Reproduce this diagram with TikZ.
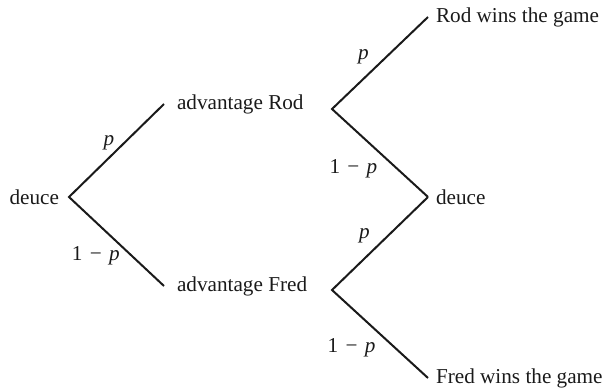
\documentclass[tikz,border=0pt]{standalone}
\usepackage{fontspec}
\setmainfont{Liberation Serif}
\usepackage{tikz}
\usetikzlibrary{positioning}
\definecolor{TreeInk}{HTML}{1A1A1A}
\tikzset{
  state/.style={inner sep=0pt,outer sep=4pt,text=TreeInk,font=\fontsize{10.6}{12}\selectfont},
  advstate/.style={state,outer xsep=6.5pt},
  branch/.style={draw=TreeInk,line width=1pt},
  prob/.style={inner sep=1.5pt,text=TreeInk,font=\fontsize{10.6}{12}\selectfont},
}
\newcommand{\pp}{\textit{p}}
\newcommand{\qq}{1\hspace{1pt} − \hspace{1pt}\textit{p}}

\begin{document}
\begin{tikzpicture}[x=0.5pt,y=-0.5pt]
  \useasboundingbox (0,0) rectangle (603,391);
  \node[state,anchor=east,outer xsep=5pt] (deuceA) at (69,197) {deuce};
  \node[advstate,anchor=west] (advRod) at (164,104) {advantage Rod};
  \node[advstate,anchor=west] (advFred) at (164,286) {advantage Fred};
  \coordinate (forkRod) at (332,109);
  \coordinate (forkFred) at (332,290);
  \node[state,anchor=west] (rodWins) at (428,17) {Rod wins the game};
  \node[state,anchor=west] (deuceB) at (428,197) {deuce};
  \node[state,anchor=west] (fredWins) at (428,378) {Fred wins the game};
  % first point
  \draw[branch] (advRod.west) -- node[prob,pos=0.42,left=3pt] (pA) {\pp} (deuceA.east) -- node[prob,pos=0.66,left=4pt] (qA) {\qq} (advFred.west);
  % after advantage
  \draw[branch] (rodWins.west) -- node[prob,pos=0.43,left=7pt] (pB) {\pp} (forkRod) -- node[prob,pos=0.68,left=8pt] (qB) {\qq} (deuceB.west);
  \draw[branch] (deuceB.west) -- node[prob,pos=0.42,left=7pt] (pC) {\pp} (forkFred) -- node[prob,pos=0.66,left=8pt] (qC) {\qq} (fredWins.west);
\end{tikzpicture}
\end{document}
